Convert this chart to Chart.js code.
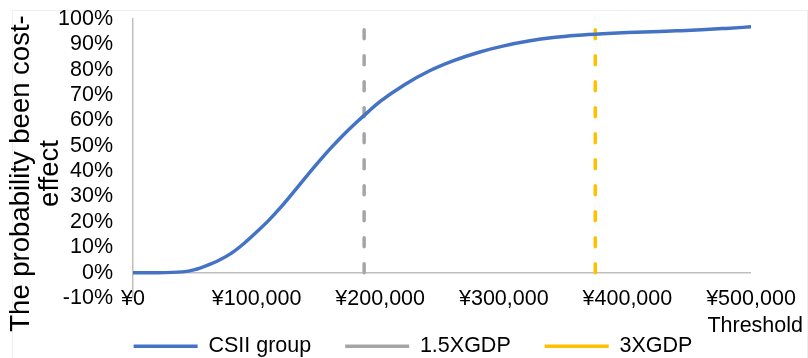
<!DOCTYPE html>
<html>
<head>
<meta charset="utf-8">
<script src="https://cdn.jsdelivr.net/npm/chart.js@4.4.1/dist/chart.umd.min.js"></script>
<style>
  html, body { margin: 0; padding: 0; background: #ffffff; overflow: hidden; }
  #wrap { position: relative; width: 808px; height: 358px; }
  #frame { position: absolute; left: 12px; top: 10px; width: 796px; height: 360px;
           border: 1px solid #efefef; box-sizing: border-box; pointer-events: none; }
  canvas { position: absolute; left: 0; top: 0; }
</style>
</head>
<body>
<div id="wrap">
  <div id="frame"></div>
  <canvas id="chart" width="808" height="358"></canvas>
</div>
<script>
// Willingness-to-pay threshold (CNY) and probability of CSII being cost-effective (%)
const thresholds = [0, 20000, 40000, 50000, 60000, 70000, 80000, 90000, 100000, 110000,
                    120000, 130000, 140000, 150000, 160000, 170000, 180000, 190000, 200000,
                    220000, 240000, 260000, 280000, 300000, 320000, 340000, 360000, 380000,
                    400000, 420000, 440000, 460000, 480000, 500000];
const csiiProbability = [0, 0, 0.3, 1.2, 2.9, 5.0, 7.8, 11.6, 16.0, 20.7,
                         26.0, 31.8, 37.8, 43.6, 49.1, 54.2, 58.9, 63.3, 67.5,
                         74.2, 79.6, 83.7, 86.9, 89.4, 91.3, 92.7, 93.6, 94.2,
                         94.65, 95.0, 95.35, 95.75, 96.3, 96.9];

// GDP-based reference thresholds (CNY)
const gdp15Threshold = 187000;
const gdp3Threshold = 374000;
const referenceSpan = [0, 100];

const seriesNames = ['CSII group', '1.5XGDP', '3XGDP'];
const xTickLabels = ['¥0', '¥100,000', '¥200,000', '¥300,000', '¥400,000', '¥500,000'];
const yTickLabels = ['-10%', '0%', '10%', '20%', '30%', '40%', '50%', '60%', '70%', '80%', '90%', '100%'];
const yTitleLines = ['The probability been cost-', 'effect'];
const xTitle = 'Threshold';

const FONT = "'Liberation Sans', Arial, sans-serif";
const TEXT = '#000000';

// Axis captions placed beside the plot area
const axisCaptions = {
  id: 'axisCaptions',
  afterDraw(chart) {
    const { ctx, chartArea } = chart;
    ctx.save();
    ctx.fillStyle = TEXT;
    ctx.textBaseline = 'middle';
    ctx.textAlign = 'center';
    ctx.font = '27.5px ' + FONT;
    const cy = (chartArea.top + chartArea.bottom) / 2 + 15;
    yTitleLines.forEach((line, i) => {
      ctx.save();
      ctx.translate(21 + i * 29, cy);
      ctx.rotate(-Math.PI / 2);
      ctx.fillText(line, 0, 0);
      ctx.restore();
    });
    ctx.font = '21.5px ' + FONT;
    ctx.textAlign = 'right';
    ctx.fillText(xTitle, chart.width - 5, chartArea.bottom + 28);
    ctx.restore();
  }
};

const lineData = thresholds.map((t, i) => ({ x: t, y: csiiProbability[i] }));
const vline = (x) => referenceSpan.map(y => ({ x, y }));

new Chart(document.getElementById('chart'), {
  type: 'line',
  data: {
    datasets: [
      {
        label: seriesNames[0],
        data: lineData,
        borderColor: '#4472C4',
        backgroundColor: '#4472C4',
        borderWidth: 3.5,
        pointRadius: 0,
        cubicInterpolationMode: 'monotone',
        borderCapStyle: 'round',
        pointStyle: 'line'
      },
      {
        label: seriesNames[1],
        data: vline(gdp15Threshold),
        borderColor: '#A5A5A5',
        backgroundColor: '#A5A5A5',
        borderWidth: 3.5,
        borderDash: [9, 17],
        borderCapStyle: 'round',
        pointRadius: 0,
        pointStyle: 'line'
      },
      {
        label: seriesNames[2],
        data: vline(gdp3Threshold),
        borderColor: '#FFC000',
        backgroundColor: '#FFC000',
        borderWidth: 3.5,
        borderDash: [9, 17],
        borderCapStyle: 'round',
        pointRadius: 0,
        pointStyle: 'line'
      }
    ]
  },
  options: {
    responsive: false,
    animation: false,
    layout: { padding: { top: 19, left: 18, right: 0, bottom: -9 } },
    plugins: {
      tooltip: { enabled: false },
      legend: {
        position: 'bottom',
        labels: {
          usePointStyle: true,
          pointStyleWidth: 64,
          padding: 34,
          color: TEXT,
          font: { family: FONT, size: 21.5 }
        }
      }
    },
    scales: {
      x: {
        type: 'linear',
        min: 0,
        max: 500000,
        grid: { display: false },
        border: { display: false },
        ticks: {
          stepSize: 100000,
          autoSkip: false,
          maxRotation: 0,
          mirror: true,
          padding: -14,
          color: TEXT,
          font: { family: FONT, size: 21.5 },
          callback: (v, i) => xTickLabels[i]
        },
        afterFit(scale) {
          scale.height = 3.5;
          scale.paddingRight = 57;
        }
      },
      y: {
        min: -10,
        max: 100,
        grid: {
          drawTicks: false,
          color: (c) => (c.tick && c.tick.value === 0 ? '#BFBFBF' : 'rgba(0,0,0,0)'),
          lineWidth: 1.5
        },
        border: { display: true, color: '#BFBFBF', width: 1.5 },
        ticks: {
          stepSize: 10,
          autoSkip: false,
          padding: 20,
          color: TEXT,
          font: { family: FONT, size: 21.5 },
          callback: (v, i) => yTickLabels[i]
        },
        afterFit(scale) {
          scale.width = 115;
          scale.paddingTop = 0;
          scale.paddingBottom = 0;
        }
      }
    }
  },
  plugins: [axisCaptions]
});
</script>
</body>
</html>
